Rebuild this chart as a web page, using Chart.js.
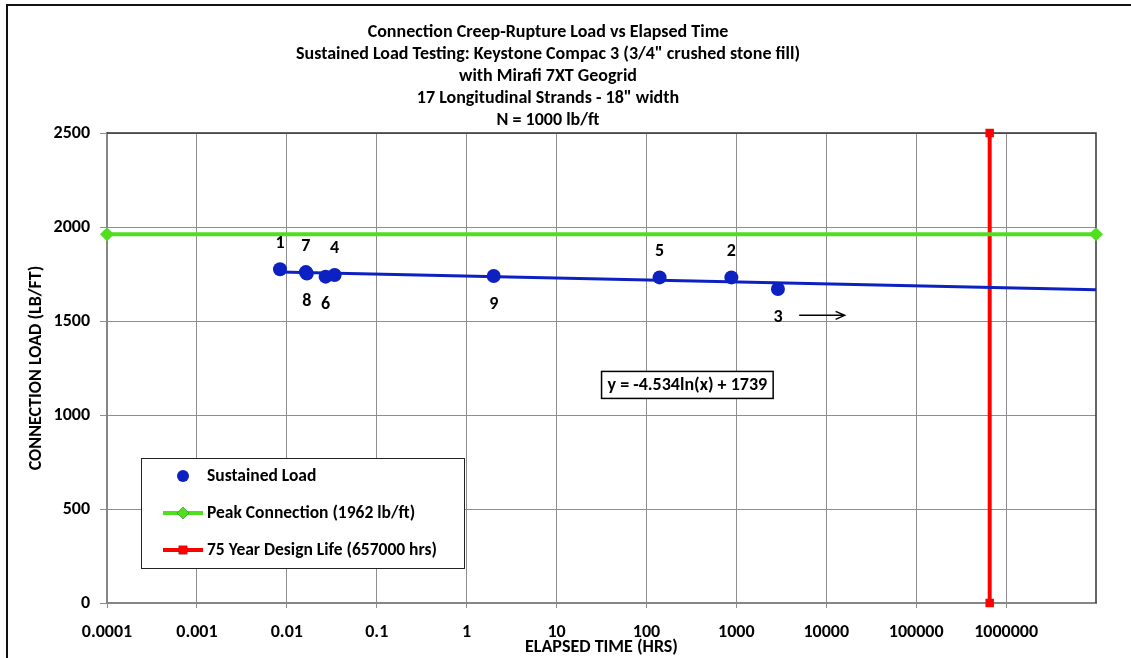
<!DOCTYPE html>
<html>
<head>
<meta charset="utf-8">
<title>Connection Creep-Rupture Load vs Elapsed Time</title>
<script src="https://cdn.jsdelivr.net/npm/chart.js@4.4.0/dist/chart.umd.min.js"></script>
<style>
  html, body { margin: 0; padding: 0; background: #fff; }
  #chart { display: block; }
</style>
</head>
<body>
<canvas id="chart" width="1131" height="658"></canvas>
<script>
// Sustained load tests: specimen number, time to rupture (hrs) and load (lb/ft)
const testIds = ["1", "7", "8", "6", "4", "9", "5", "2", "3"];
const elapsedHours = [0.0084, 0.0163, 0.0167, 0.027, 0.034, 2.0, 140, 880, 2900];
const loadLbFt = [1775, 1760, 1752, 1736, 1745, 1739, 1732, 1732, 1670];

// Reference lines
const peakLoad = 1962;
const designLifeHours = 657000;

// Log fit of the sustained load data: y = a ln(x) + b
const trendSlope = -4.534;
const trendIntercept = 1739;
const trendEndHours = 10000000;

// Axes
const xTicks = [0.0001, 0.001, 0.01, 0.1, 1, 10, 100, 1000, 10000, 100000, 1000000];
const xMin = 0.0001, xMax = 10000000;
const yMin = 0, yMax = 2500, yStep = 500;

const titleLines = [
  "Connection Creep-Rupture Load vs Elapsed Time",
  "Sustained Load Testing: Keystone Compac 3 (3/4\" crushed stone fill)",
  "with Mirafi 7XT Geogrid",
  "17 Longitudinal Strands - 18\" width",
  "N = 1000 lb/ft"
];

// Runout arrow next to specimen 3 and the fit equation label (data coords)
const arrowFrom = { x: 5000, y: 1530 };
const arrowTo = { x: 16000, y: 1530 };
const equationAt = { x: 285, y: 1160 };

const FONT = "Carlito, Calibri, Lato, sans-serif";
const BLUE = "#0d20c2";
const GREEN = "#4fdf1f";
const RED = "#ff0000";

const sustained = elapsedHours.map((x, i) => ({ x, y: loadLbFt[i] }));
const trendStart = Math.min(...elapsedHours);
const trend = [trendStart, trendEndHours].map(x => ({ x, y: trendSlope * Math.log(x) + trendIntercept }));
const equationText = `y = ${trendSlope}ln(x) + ${trendIntercept}`;

// ---------------------------------------------------------
// White page with the outer frame (top and left edges)
// ---------------------------------------------------------
const framePlugin = {
  id: "frame",
  beforeDraw(chart) {
    const { ctx, width, height } = chart;
    ctx.save();
    ctx.fillStyle = "#fff";
    ctx.fillRect(0, 0, width, height);
    ctx.strokeStyle = "#111";
    ctx.lineWidth = 2;
    ctx.beginPath();
    ctx.moveTo(width, 5);
    ctx.lineTo(7, 5);
    ctx.lineTo(7, height);
    ctx.stroke();
    ctx.restore();
  },
  beforeDatasetsDraw(chart) {
    // top and right edges of the plot area
    const { ctx, chartArea: a } = chart;
    ctx.save();
    ctx.strokeStyle = "#333";
    ctx.lineWidth = 1.5;
    ctx.beginPath();
    ctx.moveTo(a.left, a.top);
    ctx.lineTo(a.right, a.top);
    ctx.lineTo(a.right, a.bottom);
    ctx.stroke();
    ctx.restore();
  }
};

// ---------------------------------------------------------
// Specimen numbers, runout arrow, equation box and legend
// ---------------------------------------------------------
const annotationPlugin = {
  id: "annotations",
  afterDatasetsDraw(chart) {
    const { ctx, chartArea: a, scales: { x, y } } = chart;
    ctx.save();

    // specimen numbers
    const below = new Set(["8", "6", "9", "3"]);
    ctx.font = `bold 18px ${FONT}`;
    ctx.fillStyle = "#000";
    ctx.textAlign = "center";
    ctx.textBaseline = "middle";
    chart.getDatasetMeta(0).data.forEach((pt, i) => {
      const id = testIds[i];
      ctx.fillText(id, pt.x, pt.y + (below.has(id) ? 28 : -26));
    });

    // runout arrow
    const ax0 = x.getPixelForValue(arrowFrom.x), ay = y.getPixelForValue(arrowFrom.y);
    const ax1 = x.getPixelForValue(arrowTo.x);
    ctx.strokeStyle = "#000";
    ctx.lineWidth = 1.5;
    ctx.beginPath();
    ctx.moveTo(ax0, ay);
    ctx.lineTo(ax1, ay);
    ctx.moveTo(ax1 - 9, ay - 4);
    ctx.lineTo(ax1, ay);
    ctx.lineTo(ax1 - 9, ay + 4);
    ctx.stroke();

    // equation box
    ctx.font = `bold 18px ${FONT}`;
    const ex = x.getPixelForValue(equationAt.x), ey = y.getPixelForValue(equationAt.y);
    const tw = ctx.measureText(equationText).width;
    const bw = tw + 12, bh = 27;
    ctx.fillStyle = "#fff";
    ctx.fillRect(ex - bw / 2, ey - bh / 2, bw, bh);
    ctx.lineWidth = 1.5;
    ctx.strokeRect(ex - bw / 2, ey - bh / 2, bw, bh);
    ctx.fillStyle = "#000";
    ctx.fillText(equationText, ex, ey + 1);

    // legend
    const lx = a.left + 34, ly = a.top + 325, lw = 323, lh = 110;
    ctx.fillStyle = "#fff";
    ctx.fillRect(lx, ly, lw, lh);
    ctx.lineWidth = 1;
    ctx.strokeStyle = "#222";
    ctx.strokeRect(lx + 0.5, ly + 0.5, lw, lh);
    const mx = lx + 42;
    const rows = [ly + 18, ly + 55, ly + 92];
    chart.data.datasets.forEach(ds => {
      if (ds.legendRow === undefined) return;
      const ry = rows[ds.legendRow];
      if (ds.showLine) {
        ctx.strokeStyle = ds.borderColor;
        ctx.lineWidth = 4;
        ctx.beginPath();
        ctx.moveTo(mx - 20, ry);
        ctx.lineTo(mx + 20, ry);
        ctx.stroke();
      }
      Chart.helpers.drawPoint(ctx, {
        pointStyle: ds.pointStyle || "circle",
        radius: ds.legendRadius,
        borderWidth: 0
      }, mx, ry);
      ctx.fillStyle = ds.backgroundColor;
      ctx.fill();
      ctx.fillStyle = "#000";
      ctx.font = `bold 17.5px ${FONT}`;
      ctx.textAlign = "left";
      ctx.fillText(ds.label, lx + 66, ry + 1);
    });

    ctx.restore();
  }
};

const tickFont = { family: FONT, size: 18, weight: "bold" };
const axisTitleFont = { family: FONT, size: 18, weight: "bold" };

new Chart(document.getElementById("chart"), {
  type: "scatter",
  data: {
    datasets: [
      {
        label: "Sustained Load",
        data: sustained,
        showLine: false,
        backgroundColor: BLUE,
        borderColor: BLUE,
        pointRadius: 7,
        borderWidth: 0,
        legendRow: 0,
        legendRadius: 6,
        order: 0
      },
      {
        label: "Log fit",
        data: trend,
        showLine: true,
        borderColor: BLUE,
        borderWidth: 3,
        pointRadius: 0,
        order: 1
      },
      {
        label: `Peak Connection (${peakLoad} lb/ft)`,
        data: [{ x: xMin, y: peakLoad }, { x: xMax, y: peakLoad }],
        showLine: true,
        borderColor: GREEN,
        backgroundColor: GREEN,
        borderWidth: 4,
        pointStyle: "rectRot",
        pointRadius: 7,
        pointBorderWidth: 0,
        clip: false,
        legendRow: 1,
        legendRadius: 6,
        order: 2
      },
      {
        label: `75 Year Design Life (${designLifeHours} hrs)`,
        data: [{ x: designLifeHours, y: yMin }, { x: designLifeHours, y: yMax }],
        showLine: true,
        borderColor: RED,
        backgroundColor: RED,
        borderWidth: 4,
        pointStyle: "rect",
        pointRadius: 6,
        pointBorderWidth: 0,
        clip: false,
        legendRow: 2,
        legendRadius: 6,
        order: 3
      }
    ]
  },
  options: {
    responsive: false,
    animation: false,
    layout: { padding: { left: 0, right: 35, top: 0, bottom: 0 } },
    plugins: {
      legend: { display: false },
      tooltip: { enabled: false },
      title: {
        display: true,
        text: titleLines,
        color: "#000",
        font: { family: FONT, size: 18, weight: "bold", lineHeight: 22 / 18 },
        padding: { top: 21, bottom: 2 }
      }
    },
    scales: {
      x: {
        type: "logarithmic",
        min: xMin,
        max: xMax,
        afterBuildTicks: axis => { axis.ticks = xTicks.map(v => ({ value: v })); },
        afterFit: axis => { axis.height = 55; },
        ticks: {
          autoSkip: false,
          maxRotation: 0,
          color: "#000",
          font: tickFont,
          padding: 14,
          callback: v => String(v)
        },
        grid: { color: "#8e8e8e", lineWidth: 1, tickLength: 5 },
        border: { color: "#868686", width: 2 },
        title: {
          display: true,
          text: "ELAPSED TIME (HRS)",
          color: "#000",
          font: axisTitleFont,
          padding: { top: 0, bottom: 0 }
        }
      },
      y: {
        min: yMin,
        max: yMax,
        afterFit: axis => { axis.width = 107; },
        ticks: {
          stepSize: yStep,
          color: "#000",
          font: tickFont,
          padding: 10,
          callback: v => String(v)
        },
        grid: { color: "#8e8e8e", lineWidth: 1, tickLength: 7 },
        border: { color: "#868686", width: 2 },
        title: {
          display: true,
          text: "CONNECTION LOAD (LB/FT)",
          color: "#000",
          font: axisTitleFont,
          padding: { top: 26, bottom: 0 }
        }
      }
    }
  },
  plugins: [framePlugin, annotationPlugin]
});
</script>
</body>
</html>
